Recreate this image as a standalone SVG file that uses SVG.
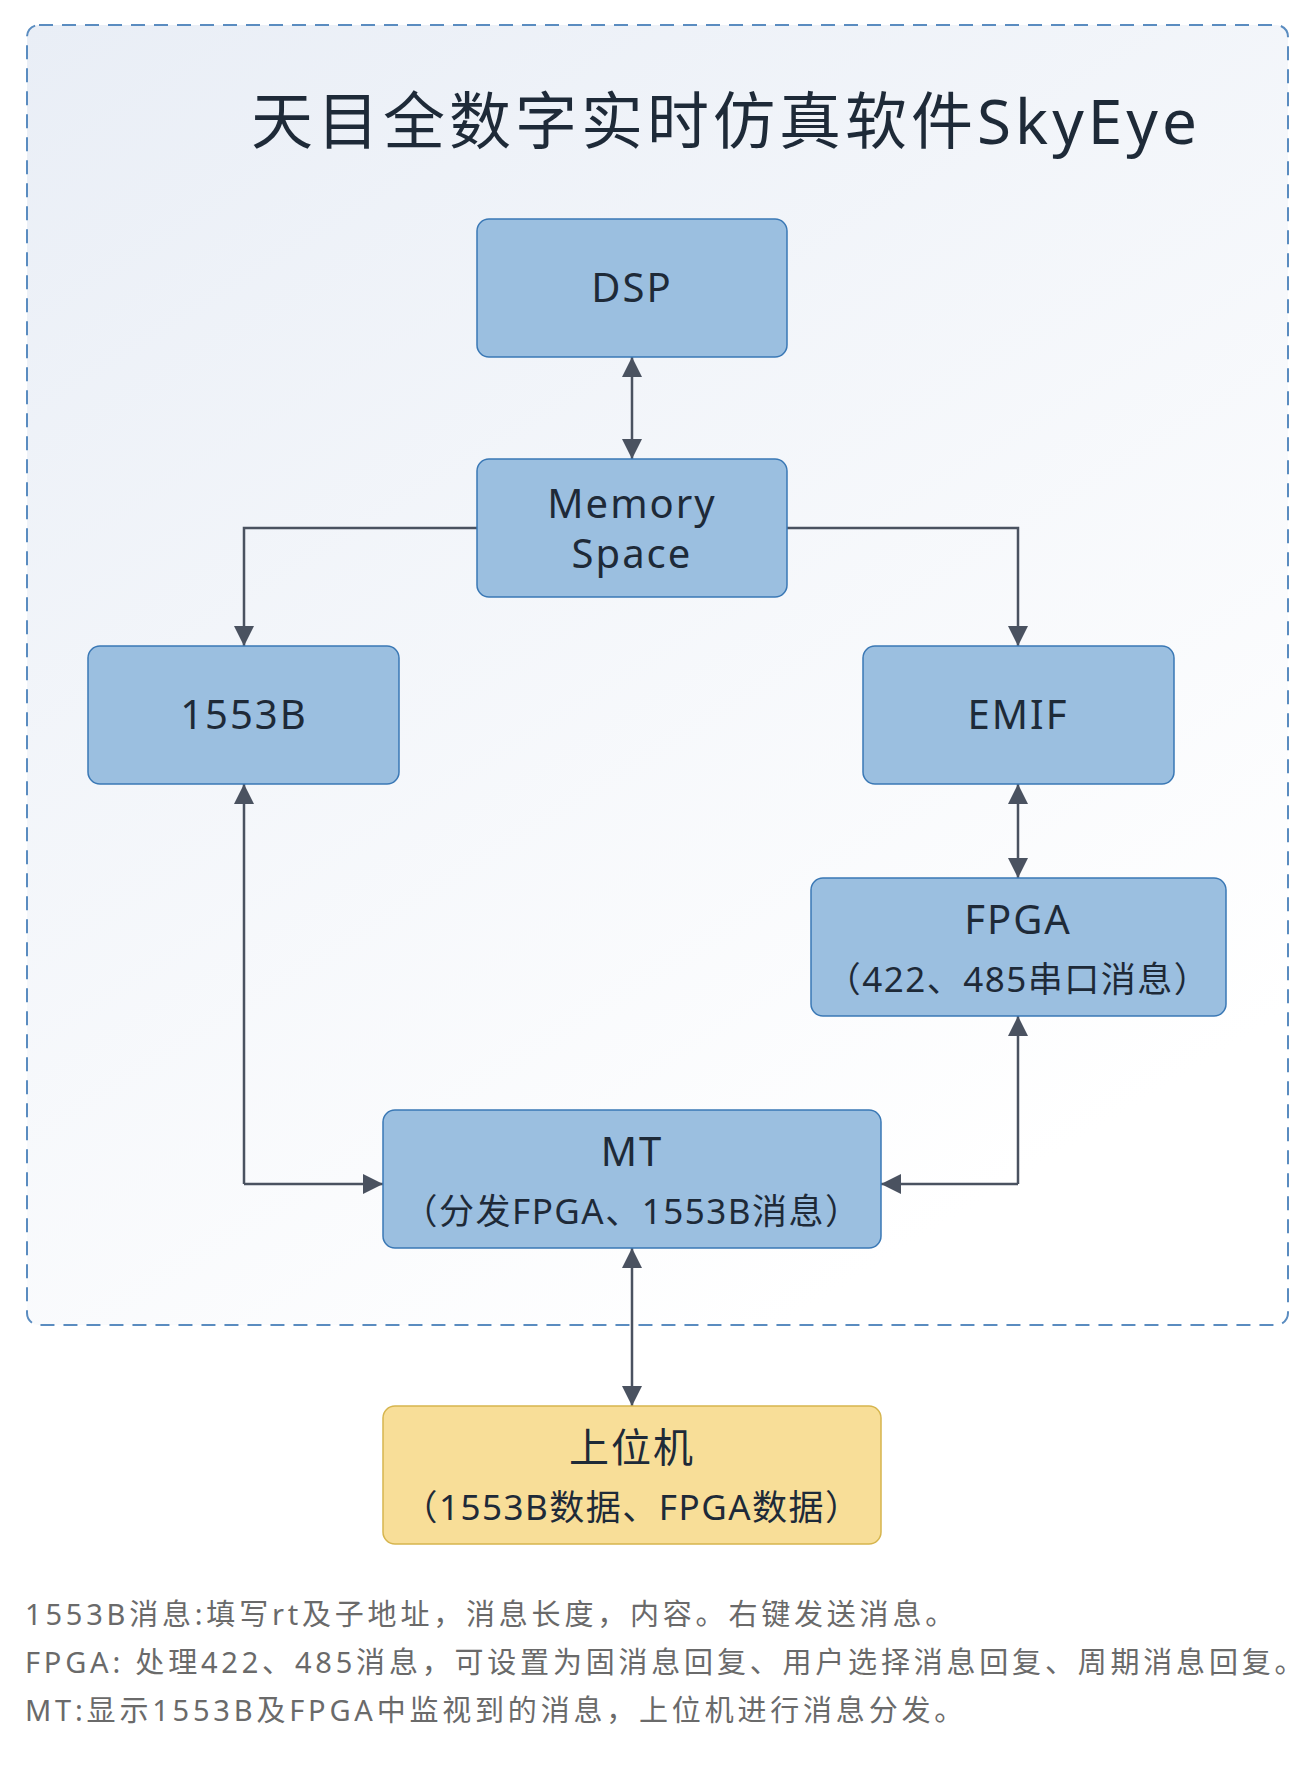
<svg xmlns="http://www.w3.org/2000/svg" width="1314" height="1774" viewBox="0 0 1314 1774">
<defs>
<linearGradient id="bg" x1="0" y1="0" x2="0.6" y2="1"><stop offset="0" stop-color="#e9eef6"/><stop offset="1" stop-color="#ffffff"/></linearGradient>
<marker id="ah" viewBox="0 0 10 10" refX="10" refY="5" markerWidth="20" markerHeight="20" markerUnits="userSpaceOnUse" orient="auto-start-reverse"><path d="M0,0 L10,5 L0,10 z" fill="#4a5260"/></marker>
<style>
text{font-family:"Noto Sans","Noto Sans CJK SC",sans-serif;fill:#1e2a38;text-anchor:middle}
.n{fill:#9bbfe0;stroke:#3a78b5;stroke-width:1.5}
.y{fill:#f8de98;stroke:#d6b54e;stroke-width:1.5}
.t{font-size:40px;letter-spacing:2px}
.s{font-size:35px;letter-spacing:1.5px}
.c path{fill:none;stroke:#4a5260;stroke-width:2.5;marker-end:url(#ah)}
.b{font-size:29px;fill:#6a6a6a;text-anchor:start;letter-spacing:3.8px}
</style>
</defs>
<rect width="1314" height="1774" fill="#ffffff"/>
<rect x="27" y="25" width="1261" height="1300" rx="12" fill="url(#bg)" stroke="#5a8cc0" stroke-width="2" stroke-dasharray="14 9"/>
<text x="726" y="144" style="font-size:62px;letter-spacing:4px">天目全数字实时仿真软件SkyEye</text>
<g class="c" id="connectors">
<path d="M632,400 L632,357"/><path d="M632,400 L632,459"/>
<path d="M477,528 L244,528 L244,646"/>
<path d="M787,528 L1018,528 L1018,646"/>
<path d="M1018,830 L1018,784"/><path d="M1018,830 L1018,878"/>
<path d="M244,1184 L244,784"/><path d="M244,1184 L383,1184"/>
<path d="M1018,1184 L1018,1016"/><path d="M1018,1184 L881,1184"/>
<path d="M632,1330 L632,1248"/><path d="M632,1330 L632,1406"/>
</g>
<g id="dsp"><rect class="n" x="477" y="219" width="310" height="138" rx="12"/><text class="t" x="632" y="302">DSP</text></g>
<g id="memory"><rect class="n" x="477" y="459" width="310" height="138" rx="12"/><text class="t" x="632" y="518">Memory</text><text class="t" x="632" y="568">Space</text></g>
<g id="b1553"><rect class="n" x="88" y="646" width="311" height="138" rx="12"/><text class="t" x="244" y="729">1553B</text></g>
<g id="emif"><rect class="n" x="863" y="646" width="311" height="138" rx="12"/><text class="t" x="1018" y="729">EMIF</text></g>
<g id="fpga"><rect class="n" x="811" y="878" width="415" height="138" rx="12"/><text class="t" x="1018" y="934">FPGA</text><text class="s" x="1018" y="992">（422、485串口消息）</text></g>
<g id="mt"><rect class="n" x="383" y="1110" width="498" height="138" rx="12"/><text class="t" x="632" y="1166">MT</text><text class="s" x="632" y="1224">（分发FPGA、1553B消息）</text></g>
<g id="host"><rect class="y" x="383" y="1406" width="498" height="138" rx="12"/><text class="t" x="632" y="1462">上位机</text><text class="s" x="632" y="1520">（1553B数据、FPGA数据）</text></g>
<text class="b" x="25" y="1625">1553B消息:填写rt及子地址，消息长度，内容。右键发送消息。</text>
<text class="b" x="25" y="1673">FPGA: 处理422、485消息，可设置为固消息回复、用户选择消息回复、周期消息回复。</text>
<text class="b" x="25" y="1721">MT:显示1553B及FPGA中监视到的消息，上位机进行消息分发。</text>
</svg>
